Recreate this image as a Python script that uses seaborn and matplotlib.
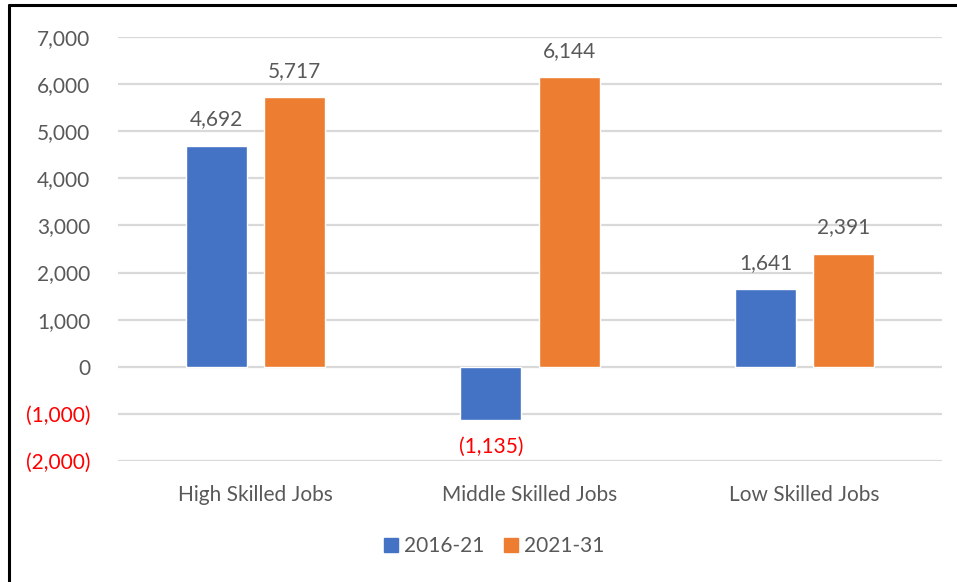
import matplotlib
matplotlib.use("Agg")
import matplotlib.pyplot as plt
from matplotlib.lines import Line2D
from matplotlib.ticker import FixedLocator
import pandas as pd
import seaborn as sns

categories = ["High Skilled Jobs", "Middle Skilled Jobs", "Low Skilled Jobs"]
periods = ["2016-21", "2021-31"]
jobs_2016_21 = [4692, -1135, 1641]
jobs_2021_31 = [5717, 6144, 2391]
y_ticks = [-2000, -1000, 0, 1000, 2000, 3000, 4000, 5000, 6000, 7000]

colors = ["#4472C4", "#ED7D31"]
text_grey = "#595959"
neg_red = "#FF0000"


def fmt(v):
    if v < 0:
        return f"({abs(v):,.0f})"
    return f"{v:,.0f}"


df = pd.DataFrame({
    "category": categories * 2,
    "period": [periods[0]] * 3 + [periods[1]] * 3,
    "jobs": jobs_2016_21 + jobs_2021_31,
})

sns.set_theme(style="white")
plt.rcParams["font.family"] = ["Lato", "DejaVu Sans"]

fig = plt.figure(figsize=(9.57, 5.82), dpi=100)
ax = fig.add_axes([118 / 957, 1 - 461 / 582, 824 / 957, 424 / 582])

sns.barplot(data=df, x="category", y="jobs", hue="period", order=categories,
            hue_order=periods, palette=colors, width=0.568, gap=0.218,
            saturation=1, ax=ax, legend=False)

ax.set_ylim(-2000, 7000)
ax.set_xlim(-0.5, 2.5)
ax.yaxis.set_major_locator(FixedLocator(y_ticks))
ax.set_yticklabels([fmt(v) for v in y_ticks])
for lbl, v in zip(ax.get_yticklabels(), y_ticks):
    lbl.set_color(neg_red if v < 0 else text_grey)
ax.tick_params(axis="y", length=0, pad=20, labelsize=15)
ax.tick_params(axis="x", length=0, pad=17, labelsize=15, labelcolor=text_grey)
ax.set_xlabel("")
ax.set_ylabel("")
ax.grid(axis="y", color="#D9D9D9", linewidth=1.6)
ax.set_axisbelow(True)
for s in ax.spines.values():
    s.set_visible(False)

for container, values in zip(ax.containers, [jobs_2016_21, jobs_2021_31]):
    texts = ax.bar_label(container, labels=[fmt(v) for v in values],
                         padding=12, fontsize=15)
    for t, v in zip(texts, values):
        t.set_color(neg_red if v < 0 else text_grey)

handles = [Line2D([], [], marker="s", linestyle="none", markersize=10,
                  markerfacecolor=c, markeredgecolor=c) for c in colors]
fig.legend(handles, periods, loc="center", bbox_to_anchor=(494 / 957, 1 - 546 / 582),
           ncol=2, frameon=False, fontsize=15, labelcolor=text_grey,
           handletextpad=0.3, columnspacing=0.9, handlelength=0.7)

# outer frame edges
fig.add_artist(Line2D([9 / 957, 9 / 957], [0, 1 - 5 / 582], color="black",
                      linewidth=2.2, transform=fig.transFigure))
fig.add_artist(Line2D([9 / 957, 1], [1 - 5 / 582, 1 - 5 / 582], color="black",
                      linewidth=2.2, transform=fig.transFigure))

fig.savefig("out.png", dpi=100, facecolor="white")
